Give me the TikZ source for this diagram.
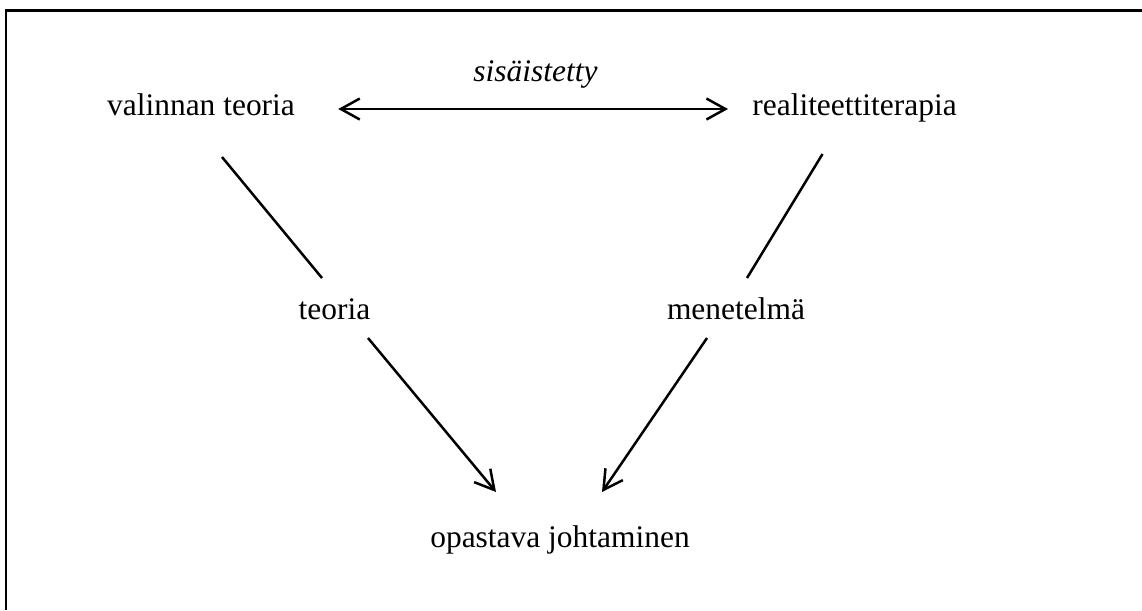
\documentclass[tikz,border=0pt]{standalone}
\usepackage{fontspec}
\setmainfont{Liberation Serif}
\usetikzlibrary{arrows.meta,calc}
\tikzset{
  lbl/.style={inner sep=0pt, anchor=base, font=\fontsize{17.9}{21}\selectfont},
  conn/.style={line width=0.05cm},
  barb/.tip={Straight Barb[length=0.38cm,width=0.42cm]},
  arr/.style={conn, -barb},
  dbl/.style={conn, barb-barb},
  frame/.style={line width=0.05cm}
}
\begin{document}
\begin{tikzpicture}[x=0.02cm,y=-0.02cm]
\useasboundingbox (0,0) rectangle (1142,610);
\draw[frame] (6.2,610) -- (6.2,10.5) -- (1142,10.5);
\node[lbl] (vt) at (201,115) {valinnan teoria};
\node[lbl] (rt) at (854.5,115) {realiteettiterapia};
\node[lbl] (si) at (535.5,81) {\itshape sisäistetty};
\node[lbl] (te) at (334.5,319) {teoria};
\node[lbl] (me) at (736,319) {menetelmä};
\node[lbl] (oj) at (560,547) {opastava johtaminen};
\draw[dbl] ($(vt.base east)+(43,-6)$) -- ($(rt.base west)+(-24,-6)$);
\draw[conn] ($(vt.base)+(21,42)$) -- ($(te.base)+(-12.5,-41)$);
\draw[arr] ($(te.base)+(33.5,19)$) -- ($(oj.base)+(-64,-55)$);
\draw[conn] ($(rt.base)+(-32,39)$) -- ($(me.base)+(11,-41)$);
\draw[arr] ($(me.base)+(-29,19)$) -- ($(oj.base)+(42,-55)$);
\end{tikzpicture}
\end{document}
